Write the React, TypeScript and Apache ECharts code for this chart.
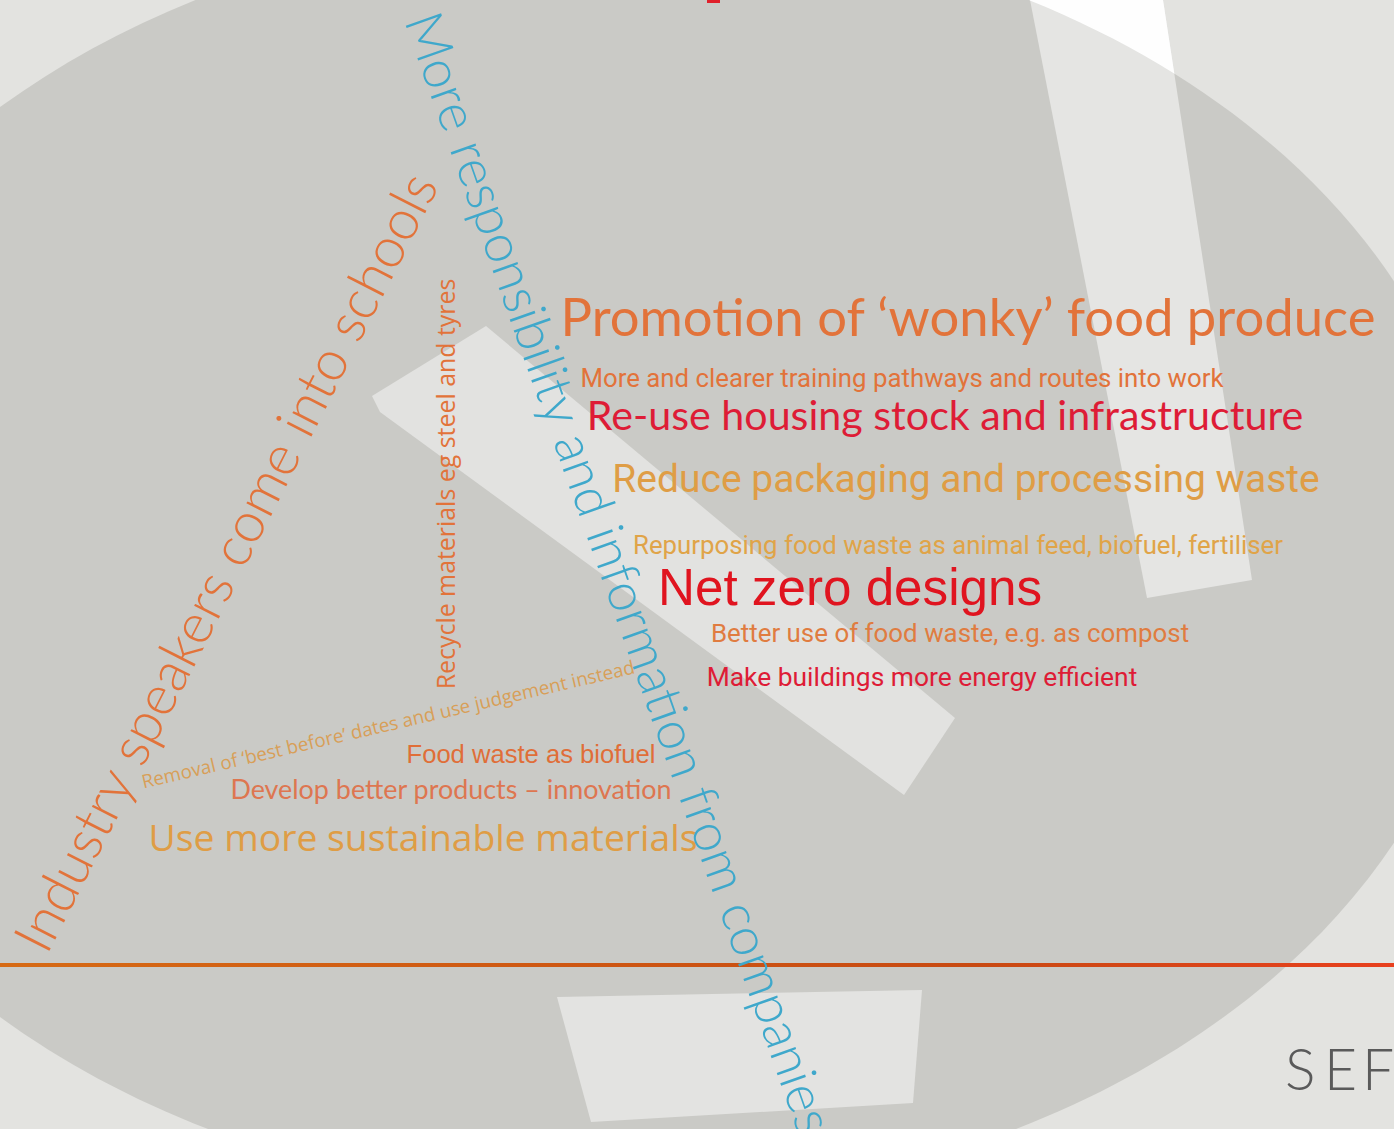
import React, { useEffect, useRef } from "react";
import * as echarts from "echarts";

const W = 1394;
const H = 1129;

// Phrases of the word cloud (the data)
const phrases = [
  "Promotion of ‘wonky’ food produce",
  "More and clearer training pathways and routes into work",
  "Re-use housing stock and infrastructure",
  "Reduce packaging and processing waste",
  "Repurposing food waste as animal feed, biofuel, fertiliser",
  "Net zero designs",
  "Better use of food waste, e.g. as compost",
  "Make buildings more energy efficient",
  "Food waste as biofuel",
  "Develop better products – innovation",
  "Use more sustainable materials",
  "Removal of ‘best before’ dates and use judgement instead",
  "Recycle materials eg steel and tyres",
  "Industry speakers come into schools",
  "More responsibility and information from companies",
];

// Layout of each phrase (centre x, centre y in the hidden axes' units)
const posX = [968, 902, 945, 966, 958, 850, 950, 922, 531, 451, 423, 388, 445, 224, 621];
const posY = [315, 378, 414, 479, 545, 587, 633, 677, 754, 788, 836, 724, 484, 561, 572];
// Rotation in degrees (counter-clockwise)
const angles = [0, 0, 0, 0, 0, 0, 0, 0, 0, 0, 0, 13.2, 90, 63, -70.5];
// Length of each phrase along its baseline (px)
const spans = [816, 642, 716, 708, 649, 384, 479, 430, 249, 442, 549, 506, 411, 866, 1186];

const LATO = "Lato, 'Open Sans', sans-serif";
const NARROW = "'Liberation Sans Narrow', 'Roboto', sans-serif";
const ARIAL = "'Liberation Sans', Arial, sans-serif";
const OPEN = "'Open Sans', 'Noto Sans', sans-serif";
const fonts = [LATO, NARROW, LATO, NARROW, NARROW, ARIAL, NARROW, NARROW, ARIAL, LATO, OPEN, OPEN, OPEN, LATO, LATO];
const weights = [400, 400, 400, 400, 400, 400, 400, 400, 400, 400, 400, 400, 400, 300, 300];

const ORANGE = "#e2733a";
const RED = "#de1c36";
const GOLD = "#df9d45";
const BLUE = "#3fa8cb";
const colors = [ORANGE, ORANGE, RED, GOLD, "#e0a448", "#e0141f", "#e07c40", RED, "#e06e38", "#de7650", GOLD, "#d89f58", ORANGE, ORANGE, BLUE];

function fitSize(text: string, family: string, weight: number, span: number): number {
  const c = document.createElement("canvas");
  const ctx = c.getContext("2d");
  if (!ctx) return 24;
  ctx.font = `${weight} 100px ${family}`;
  const w = ctx.measureText(text).width;
  return Math.round(((100 * span) / w) * 10) / 10;
}

export default function App() {
  const ref = useRef<HTMLDivElement>(null);

  useEffect(() => {
    if (!ref.current) return;
    const chart = echarts.init(ref.current, null, { renderer: "svg" });

    const data = phrases.map((p, i) => ({
      name: p,
      value: [posX[i], posY[i]],
      label: {
        rotate: angles[i],
        fontSize: fitSize(p, fonts[i], weights[i], spans[i]),
        fontFamily: fonts[i],
        fontWeight: weights[i],
        color: colors[i],
      },
    }));

    const band = [
      [1030, 0],
      [1163, 0],
      [1252, 580],
      [1147, 598],
    ];

    const sefLetter = (ch: string, x: number) => ({
      type: "text",
      z: -6,
      silent: true,
      x,
      y: 1068,
      style: {
        text: ch,
        fontSize: 57,
        fontFamily: "Lato, sans-serif",
        fontWeight: 300,
        fill: "#5a5a5a",
        align: "left",
        verticalAlign: "middle",
      },
    });

    chart.setOption({
      animation: false,
      backgroundColor: "#e3e3e0",
      grid: { left: 0, right: 0, top: 0, bottom: 0 },
      xAxis: { type: "value", min: 0, max: W, show: false },
      yAxis: { type: "value", min: 0, max: H, inverse: true, show: false },
      graphic: [
        { type: "polygon", z: -10, silent: true, shape: { points: band }, style: { fill: "#fdfdfd" } },
        { type: "ellipse", z: -9, silent: true, shape: { cx: 612, cy: 562, rx: 870, ry: 640 }, style: { fill: "#cacac6" } },
        { type: "polygon", z: -8, silent: true, shape: { points: band }, style: { fill: "rgba(255,255,255,0.5)" } },
        {
          type: "polygon",
          z: -8,
          silent: true,
          shape: { points: [[486, 326], [955, 718], [904, 795], [380, 412], [372, 396]] },
          style: { fill: "#e2e2e0" },
        },
        {
          type: "polygon",
          z: -8,
          silent: true,
          shape: { points: [[557, 997], [922, 990], [913, 1103], [591, 1122]] },
          style: { fill: "#e3e3e1" },
        },
        {
          type: "rect",
          z: -7,
          silent: true,
          shape: { x: 0, y: 963, width: W, height: 4 },
          style: {
            fill: new echarts.graphic.LinearGradient(0, 0, 1, 0, [
              { offset: 0, color: "#d66a14" },
              { offset: 0.7, color: "#c84a12" },
              { offset: 1, color: "#e8401e" },
            ]),
          },
        },
        { type: "rect", z: -7, silent: true, shape: { x: 707, y: 0, width: 13, height: 3 }, style: { fill: "#e0202a" } },
        sefLetter("S", 1285),
        sefLetter("E", 1324),
        sefLetter("F", 1362),
      ],
      series: [
        {
          type: "scatter",
          silent: true,
          symbolSize: 1,
          itemStyle: { color: "rgba(0,0,0,0)", opacity: 1 },
          label: {
            show: true,
            position: "inside",
            formatter: "{b}",
            align: "center",
            verticalAlign: "middle",
          },
          data,
        },
      ],
    });

    return () => chart.dispose();
  }, []);

  return (
    <div
      ref={ref}
      style={{ position: "absolute", left: 0, top: 0, width: W, height: H }}
    />
  );
}
